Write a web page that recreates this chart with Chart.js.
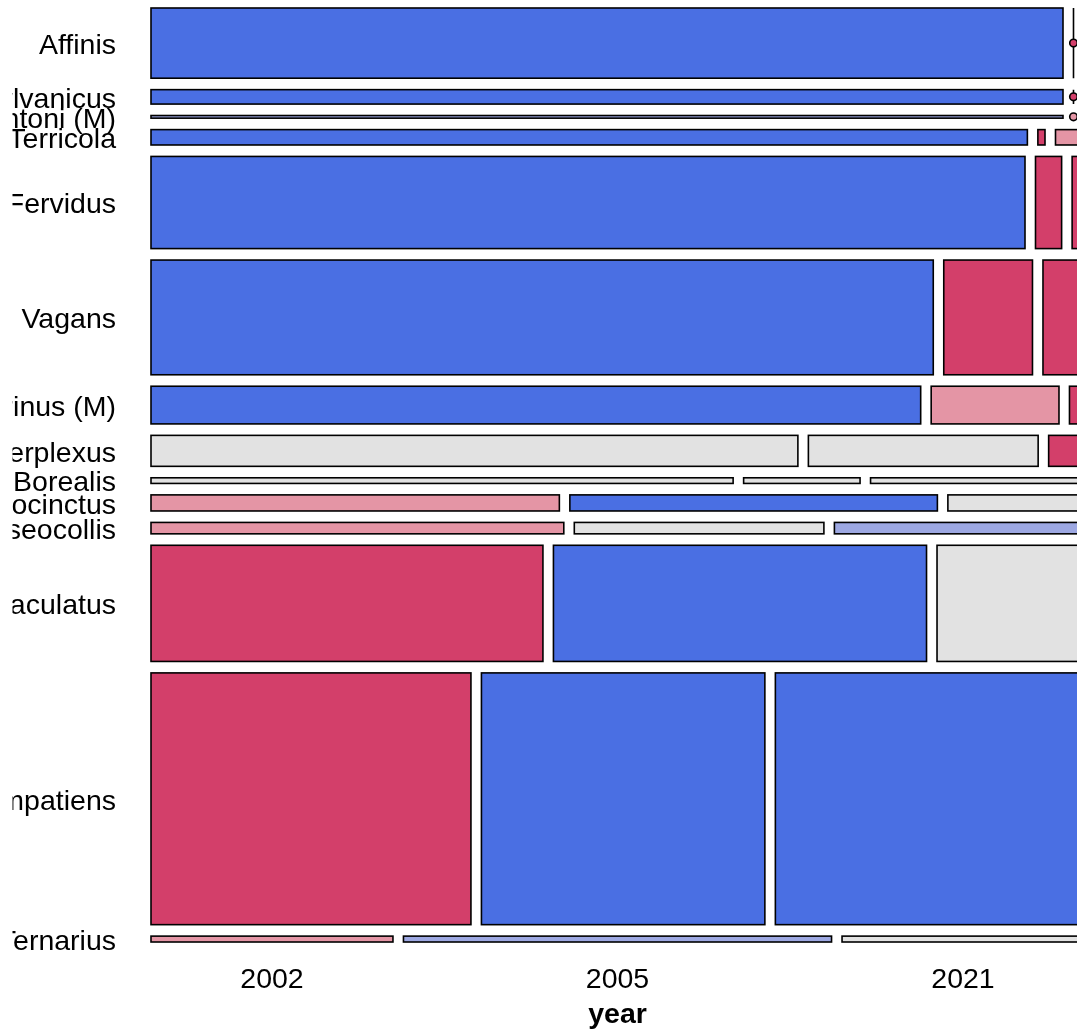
<!DOCTYPE html>
<html>
<head>
<meta charset="utf-8">
<title>Mosaic: species by year</title>
<script src="https://cdn.jsdelivr.net/npm/chart.js@4.4.1/dist/chart.umd.min.js"></script>
<style>
  html, body { margin: 0; padding: 0; background: #fff; overflow: hidden; }
  #wrap { width: 1090px; height: 1029px; }
</style>
</head>
<body>
<div id="wrap"><canvas id="mosaic" width="1090" height="1029"></canvas></div>
<script>
const years = ['2002', '2005', '2021'];
const species = ['Affinis', 'Pennsylvanicus', 'Ashtoni (M)', 'Terricola', 'Fervidus', 'Vagans',
  'Citrinus (M)', 'Perplexus', 'Borealis', 'Rufocinctus', 'Griseocollis', 'Bimaculatus',
  'Impatiens', 'Ternarius'];

// counts per species, one array per year
const count2002 = [585, 120, 22, 123, 736, 820, 265, 183, 30, 60, 43, 416, 736, 13];
const count2005 = [0, 0, 0, 1, 22, 93, 44, 65, 6, 54, 26, 396, 652, 23];
const count2021 = [0, 0, 0, 4, 10, 43, 5, 10, 11, 20, 26, 156, 710, 13];

// residual shading level per cell (-2 strong neg, -1 neg, 0 none, 1 pos, 2 strong pos)
const shade2002 = [2, 2, 1, 2, 2, 2, 2, 0, 0, -1, -1, -2, -2, -1];
const shade2005 = [-2, -2, -1, -2, -2, -2, -1, 0, 0, 2, 0, 2, 2, 1];
const shade2021 = [-2, -2, -1, -1, -2, -2, -2, -2, 0, 0, 1, 0, 2, 0];

const shadeColors = {
  '-2': '#D33F6A',
  '-1': '#E495A5',
  '0': '#E2E2E2',
  '1': '#9DA8E2',
  '2': '#4A6FE3',
};

const FONT = 'Liberation Sans, Arial, Helvetica, sans-serif';
const GAP_X = 10.5 / 933;
const GAP_Y = 11.46 / 934;
const CLIP_LEFT = 12.5; // the original output is clipped on the left

const rowTotals = species.map((_, i) => count2002[i] + count2005[i] + count2021[i]);
const grandTotal = rowTotals.reduce((a, b) => a + b, 0);

// lay out the tiles in axis units (0..1 on both axes)
const cells = [];
const rowCenters = [];
let yCursor = 0;
const usableY = 1 - GAP_Y * (species.length - 1);
const usableX = 1 - GAP_X * (years.length - 1);
species.forEach((name, i) => {
  const h = usableY * rowTotals[i] / grandTotal;
  const counts = [count2002[i], count2005[i], count2021[i]];
  const shades = [shade2002[i], shade2005[i], shade2021[i]];
  let xCursor = 0;
  counts.forEach((c, j) => {
    const w = usableX * c / rowTotals[i];
    cells.push({ x0: xCursor, x1: xCursor + w, y0: yCursor, y1: yCursor + h, count: c, shade: shades[j] });
    xCursor += w + GAP_X;
  });
  rowCenters.push(yCursor + h / 2);
  yCursor += h + GAP_Y;
});
const bottomRow = cells.slice(-years.length);
const yearCenters = bottomRow.map(c => (c.x0 + c.x1) / 2);

const clipPlugin = {
  id: 'clipLeft',
  beforeDraw(chart) {
    const { ctx, width, height } = chart;
    ctx.save();
    ctx.beginPath();
    ctx.rect(CLIP_LEFT, 0, width - CLIP_LEFT, height);
    ctx.clip();
  },
  afterDraw(chart) {
    chart.ctx.restore();
  },
};

const mosaicPlugin = {
  id: 'mosaic',
  afterDatasetsDraw(chart) {
    const { ctx, scales: { x, y } } = chart;
    ctx.save();
    ctx.lineWidth = 1.6;
    ctx.strokeStyle = '#000';
    cells.forEach(cell => {
      const left = x.getPixelForValue(cell.x0);
      const right = x.getPixelForValue(cell.x1);
      const top = y.getPixelForValue(cell.y0);
      const bottom = y.getPixelForValue(cell.y1);
      const fill = shadeColors[String(cell.shade)];
      if (cell.count > 0) {
        ctx.fillStyle = fill;
        ctx.fillRect(left, top, right - left, bottom - top);
        ctx.strokeRect(left, top, right - left, bottom - top);
      } else {
        // empty cell: a line across the row with a dot in the middle
        ctx.beginPath();
        ctx.moveTo(left, top);
        ctx.lineTo(left, bottom);
        ctx.stroke();
        ctx.beginPath();
        ctx.arc(left, (top + bottom) / 2, 3.8, 0, Math.PI * 2);
        ctx.fillStyle = fill;
        ctx.fill();
        ctx.stroke();
      }
    });
    ctx.restore();
  },
};

function zeroPadding(scale) {
  scale.paddingTop = 0;
  scale.paddingBottom = 0;
  scale.paddingLeft = 0;
  scale.paddingRight = 0;
}

new Chart(document.getElementById('mosaic'), {
  type: 'scatter',
  data: {
    datasets: [{
      data: cells.map(c => ({ x: (c.x0 + c.x1) / 2, y: (c.y0 + c.y1) / 2 })),
      pointRadius: 0,
      pointHoverRadius: 0,
    }],
  },
  options: {
    responsive: false,
    animation: false,
    devicePixelRatio: 1,
    layout: { padding: { left: 0, right: 6, top: 8, bottom: 0 } },
    plugins: { legend: { display: false }, tooltip: { enabled: false } },
    scales: {
      x: {
        type: 'linear',
        min: 0,
        max: 1,
        grid: { display: false, drawTicks: false },
        border: { display: false },
        afterBuildTicks: (s) => { s.ticks = yearCenters.map(v => ({ value: v })); },
        afterFit: (s) => { s.height = 87; zeroPadding(s); },
        ticks: {
          autoSkip: false,
          maxRotation: 0,
          minRotation: 0,
          padding: 21,
          color: '#000',
          font: { family: FONT, size: 28.5 },
          callback: (value, index) => years[index],
        },
        title: {
          display: true,
          text: 'year',
          color: '#000',
          font: { family: FONT, size: 28.5, weight: 'bold', lineHeight: 1.0 },
          padding: { top: 0, bottom: 0 },
        },
      },
      y: {
        type: 'linear',
        min: 0,
        max: 1,
        reverse: true,
        grid: { display: false, drawTicks: false },
        border: { display: false },
        afterBuildTicks: (s) => { s.ticks = rowCenters.map(v => ({ value: v })); },
        afterFit: (s) => { s.width = 151; zeroPadding(s); },
        ticks: {
          autoSkip: false,
          padding: 35,
          labelOffset: 3,
          color: '#000',
          font: { family: FONT, size: 28.5 },
          callback: (value, index) => species[index],
        },
      },
    },
  },
  plugins: [clipPlugin, mosaicPlugin],
});
</script>
</body>
</html>
